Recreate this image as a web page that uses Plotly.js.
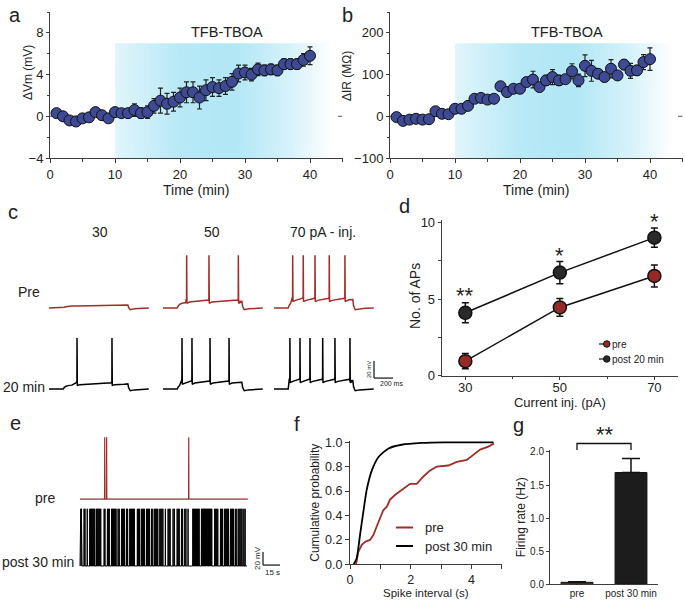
<!DOCTYPE html>
<html><head><meta charset="utf-8">
<script src="https://cdn.plot.ly/plotly-3.0.1.min.js"></script>
<style>html,body{margin:0;padding:0;background:#fff}#chart{width:685px;height:601px}</style>
</head><body><div id="chart"></div>
<script>
// ===================== DATA =====================
// panels a, b : time course
const timeMin = [1,2,3,4,5,6,7,8,9,10,11,12,13,14,15,16,17,18,19,20,21,22,23,24,25,26,27,28,29,30,31,32,33,34,35,36,37,38,39,40];
const dVm    = [0.3,0.0,-0.4,-0.5,-0.2,-0.1,0.4,0.1,-0.2,0.4,0.3,0.3,0.6,0.3,0.4,1.0,1.5,1.2,1.4,1.8,2.3,2.3,1.8,2.5,2.8,2.7,2.9,3.3,4.1,4.2,4.0,4.5,4.4,4.5,4.4,5.0,5.0,5.0,5.4,5.8];
const dVmErr = [0.2,0.2,0.2,0.2,0.2,0.2,0.2,0.2,0.2,0.2,0.2,0.3,0.6,0.5,0.6,0.7,1.2,1.0,0.9,0.9,1.0,1.0,1.1,1.0,0.9,0.8,0.8,0.8,0.8,0.7,0.6,0.6,0.5,0.5,0.5,0.5,0.5,0.5,0.6,0.85];
const dIR    = [-2,-11,-8,-6,-8,-7,12,6,5,18,18,25,42,44,40,42,72,58,66,66,82,88,70,86,94,86,89,108,86,121,109,102,94,114,98,124,109,110,130,137];
const dIRErr = [4,4,4,4,4,4,5,5,5,5,5,6,6,6,6,6,8,6,7,7,10,20,10,12,18,12,10,18,15,26,25,10,8,22,10,12,18,12,18,27];
// panel c : spike times (ms from trace start) during current steps
const stepCurrents = ['30', '50', '70 pA - inj.'];
const spikesPre  = [[], [249, 484, 793], [197, 308, 432, 582, 747]];
const spikesPost = [[295, 663], [200, 305, 495, 695], [168, 274, 379, 513, 642, 800]];
// panel d : number of APs
const currentInj = [30, 50, 70];
const apsPre     = [0.95, 4.45, 6.5];
const apsPreErr  = [0.5, 0.58, 0.72];
const apsPost    = [4.1, 6.72, 9.0];
const apsPostErr = [0.65, 0.72, 0.63];
const apsSig     = ['**', '*', '*'];
// panel e : spike times (s) of spontaneous firing
const spontPre  = [21.8, 23.5, 95.9];
const spontPost = [0.2,0.7,1.2,1.7,3.6,4.4,6.4,8.6,9.3,10.0,10.8,11.5,12.3,13.0,14.5,15.2,16.0,16.8,17.5,18.3,21.3,22.0,24.2,25.0,25.8,27.8,28.6,29.4,30.2,31.0,31.8,33.6,34.6,36.6,37.5,38.4,39.3,41.0,42.0,43.9,44.7,45.5,46.3,47.2,48.0,50.6,51.6,52.5,54.1,55.0,55.9,56.8,58.6,59.5,60.4,61.3,63.0,64.2,65.9,66.8,67.7,68.6,70.4,71.3,72.2,73.1,75.3,77.7,78.6,79.5,82.1,83.3,85.7,86.6,87.5,89.5,90.5,92.4,93.4,95.3,99.5,100.3,101.1,101.9,102.7,103.5,104.3,105.1,107.1,107.8,108.5,109.2,109.9,110.6,111.3,112.0,112.7,113.4,114.1,114.8,115.5,116.2,118.8,119.7,120.6,121.5,123.9,124.9,125.8,127.6,128.5,129.4,130.3,131.0,132.7,133.6,134.5,135.4,137.0,138.3,140.0,141.0,142.0,142.9,144.5,145.6];
// panel f : cumulative probability of spike intervals
const isiPre  = [0.2,0.27,0.39,0.5,0.66,0.77,0.88,0.99,1.1,1.21,1.32,1.49,1.7,1.98,2.2,2.42,2.64,2.86,3.24,3.52,3.85,4.07,4.29,4.56,4.75];
const cumPre  = [0.0,0.10,0.16,0.185,0.2,0.24,0.31,0.38,0.445,0.47,0.53,0.57,0.61,0.66,0.66,0.72,0.77,0.80,0.81,0.84,0.855,0.895,0.94,0.965,0.99];
const isiPost = [0.12,0.22,0.33,0.44,0.55,0.72,0.94,1.27,1.7,2.37,3.1,4.73];
const cumPost = [0.0,0.05,0.24,0.43,0.61,0.77,0.88,0.95,0.98,0.995,1.0,1.0];
// panel g : firing rate
const groups    = ['pre', 'post 30 min'];
const rate      = [0.03, 1.69];
const rateErr   = [0.01, 0.21];

// ===================== LAYOUT HELPERS =====================
const W = 685, H = 601;
const PX = x => x / W, PY = y => 1 - y / H;
const domX = (a, b) => [a / W, b / W];
const domY = (top, bot) => [1 - bot / H, 1 - top / H];
const FONT = 'Arial, Liberation Sans, sans-serif';
const AX = '#3c3c3c';
const TXT = '#222';
const RED = 'rgb(160,45,40)';
function axis(o) {
  return Object.assign({
    showline: true, linecolor: AX, linewidth: 1, ticks: 'outside', ticklen: 4, tickwidth: 1,
    tickcolor: AX, showgrid: false, zeroline: false, fixedrange: true,
    tickfont: {family: FONT, size: 13, color: TXT}
  }, o);
}
const hidden = o => Object.assign({visible: false, showgrid: false, zeroline: false, fixedrange: true}, o);
const tfont = s => ({family: FONT, size: s, color: TXT, weight: 'normal'});

// ===================== TRACE BUILDERS =====================
const STEP_ON = 150, STEP_OFF = 830, TRACE_LEN = 1050;
function stepTrace(spikes, t0, y0, lv) {
  const xs = [], ys = [];
  const p = (t, v) => { xs.push(t0 + t); ys.push(y0 + v); };
  const first = spikes.length ? spikes[0] - 8 : Infinity;
  p(0, 0); p(STEP_ON, 0);
  [[10, 0.35], [25, 0.6], [50, 0.8], [90, 0.92], [150, 1]].forEach(o => { if (STEP_ON + o[0] < first) p(STEP_ON + o[0], lv.base * o[1]); });
  spikes.forEach(s => {
    p(s - 7, lv.thr - 1.5); p(s - 1, lv.thr); p(s, lv.peak); p(s + 3, lv.ahp); p(s + 12, lv.ahp + 0.6); p(s + 30, lv.base);
  });
  p(STEP_OFF - 40, lv.base + 0.6); p(STEP_OFF, lv.base + 1);
  p(STEP_OFF + 8, lv.base * 0.3); p(STEP_OFF + 25, -2); p(STEP_OFF + 70, -1); p(STEP_OFF + 130, -0.3); p(TRACE_LEN, 0);
  return {xs, ys};
}
function spontTrace(spikes, y0, peak, tEnd) {
  const xs = [0], ys = [y0];
  spikes.forEach(t => { xs.push(t - 0.15, t, t + 0.15); ys.push(y0, y0 + peak, y0); });
  xs.push(tEnd); ys.push(y0);
  return {xs, ys};
}

// panel c geometry (ms / mV); 1 px = 10.526 ms horizontally, 0.85 px per mV vertically
const colOffset = [0, 1200, 2368];
const rowPre = 95.3, rowPost = 0;

const traces = [];
// ---- a ----
traces.push({x: timeMin, y: dVm, type: 'scatter', mode: 'markers', xaxis: 'x', yaxis: 'y', hoverinfo: 'skip',
  marker: {size: 11, color: '#3e4a93', line: {color: '#111', width: 1}},
  error_y: {type: 'data', array: dVmErr, color: '#222', thickness: 1.2, width: 2.5}});
// ---- b ----
traces.push({x: timeMin, y: dIR, type: 'scatter', mode: 'markers', xaxis: 'x2', yaxis: 'y2', hoverinfo: 'skip',
  marker: {size: 11, color: '#3e4a93', line: {color: '#111', width: 1}},
  error_y: {type: 'data', array: dIRErr, color: '#222', thickness: 1.2, width: 2.5}});
// ---- c ----
const lvPre  = [{base: 2.5, thr: 3, ahp: 2.5, peak: 3}, {base: 7, thr: 11, ahp: 5.5, peak: 62}, {base: 9, thr: 13, ahp: 7.5, peak: 62}];
const lvPost = [{base: 5, thr: 9, ahp: 4, peak: 60}, {base: 7, thr: 11, ahp: 5.5, peak: 60}, {base: 9, thr: 13, ahp: 7.5, peak: 60}];
for (let i = 0; i < 3; i++) {
  const a = stepTrace(spikesPre[i], colOffset[i], rowPre, lvPre[i]);
  traces.push({x: a.xs, y: a.ys, type: 'scatter', mode: 'lines', xaxis: 'x3', yaxis: 'y3', hoverinfo: 'skip',
    line: {color: RED, width: 1.5}});
  const b = stepTrace(spikesPost[i], colOffset[i], rowPost, lvPost[i]);
  traces.push({x: b.xs, y: b.ys, type: 'scatter', mode: 'lines', xaxis: 'x3', yaxis: 'y3', hoverinfo: 'skip',
    line: {color: '#000', width: 1.5}});
}
// ---- d ----
traces.push({x: currentInj, y: apsPre, type: 'scatter', mode: 'lines+markers', xaxis: 'x4', yaxis: 'y4', name: 'pre', hoverinfo: 'skip',
  line: {color: '#111', width: 1.5}, marker: {size: 13, color: 'rgb(150,40,38)', line: {color: '#111', width: 1.5}},
  error_y: {type: 'data', array: apsPreErr, color: '#111', thickness: 1.5, width: 3.5}});
traces.push({x: currentInj, y: apsPost, type: 'scatter', mode: 'lines+markers', xaxis: 'x4', yaxis: 'y4', name: 'post 20 min', hoverinfo: 'skip',
  line: {color: '#111', width: 1.5}, marker: {size: 13, color: '#2a2a2a', line: {color: '#111', width: 1.5}},
  error_y: {type: 'data', array: apsPostErr, color: '#111', thickness: 1.5, width: 3.5}});
// ---- e ----
const ePre = spontTrace(spontPre, 103, 95, 148);
traces.push({x: ePre.xs, y: ePre.ys, type: 'scatter', mode: 'lines', xaxis: 'x5', yaxis: 'y5', hoverinfo: 'skip', line: {color: RED, width: 1.2}});
const ePost = spontTrace(spontPost, 0, 88, 147.3);
traces.push({x: ePost.xs, y: ePost.ys, type: 'scatter', mode: 'lines', xaxis: 'x5', yaxis: 'y5', hoverinfo: 'skip', line: {color: '#000', width: 1}});
// ---- f ----
traces.push({x: isiPre, y: cumPre, type: 'scatter', mode: 'lines', xaxis: 'x6', yaxis: 'y6', name: 'pre', hoverinfo: 'skip', line: {color: RED, width: 1.8}});
traces.push({x: isiPost, y: cumPost, type: 'scatter', mode: 'lines', xaxis: 'x6', yaxis: 'y6', name: 'post 30 min', hoverinfo: 'skip', line: {color: '#000', width: 1.8, shape: 'spline', smoothing: 0.6}});
// ---- g ----
traces.push({x: groups, y: rate, type: 'bar', xaxis: 'x7', yaxis: 'y7', width: 0.59, hoverinfo: 'skip',
  marker: {color: ['rgb(120,32,30)', '#1c1c1c'], line: {color: '#111', width: 1}},
  error_y: {type: 'data', symmetric: false, array: rateErr, arrayminus: [0, 0], color: '#111', thickness: 1.5, width: 9}});

// ===================== GRADIENT (drug application) =====================
function gradientURL() {
  const c = document.createElement('canvas'); c.width = 400; c.height = 4;
  const g = c.getContext('2d'); const gr = g.createLinearGradient(0, 0, 400, 0);
  gr.addColorStop(0, 'rgb(225,245,252)'); gr.addColorStop(0.3, 'rgb(184,233,247)');
  gr.addColorStop(0.55, 'rgb(178,231,246)'); gr.addColorStop(0.8, 'rgb(214,242,251)');
  gr.addColorStop(1, 'rgb(255,255,255)');
  g.fillStyle = gr; g.fillRect(0, 0, 400, 4); return c.toDataURL();
}
const grad = gradientURL();

// ===================== ANNOTATIONS =====================
const ann = [];
const txt = (text, x, y, size, o) => ann.push(Object.assign({text, x: PX(x), y: PY(y), xref: 'paper', yref: 'paper',
  showarrow: false, xanchor: 'center', yanchor: 'middle', font: tfont(size)}, o || {}));
// panel letters
[['a', 15, 15], ['b', 347, 15], ['c', 13, 212], ['d', 404, 206], ['e', 15, 423], ['f', 297, 424], ['g', 518, 425]]
  .forEach(l => txt(l[0], l[1], l[2], 20));
// y-axis titles placed close to their tick labels, as in the reference
txt('ΔVm (mV)', 28, 73, 12, {textangle: -90});
txt('ΔIR (MΩ)', 347, 76, 12, {textangle: -90});
txt('No. of APs', 415, 296, 14, {textangle: -90});
// a, b labels
ann.push({text: 'TFB-TBOA', x: 27.2, y: 8.1, xref: 'x', yref: 'y', showarrow: false, font: tfont(14.5)});
ann.push({text: 'TFB-TBOA', x: 27.2, y: 202, xref: 'x2', yref: 'y2', showarrow: false, font: tfont(14.5)});
// c labels
txt(stepCurrents[0], 100, 232, 14); txt(stepCurrents[1], 212, 232, 14); txt(stepCurrents[2], 323, 232, 14);
txt('Pre', 29, 292, 14); txt('20 min', 24, 387, 14);
txt('20 mV', 369, 370, 6, {textangle: -90}); txt('200 ms', 392, 383, 7);
// d significance
currentInj.forEach((c, i) => {
  const yv = [5.2, 7.86, 10.04][i];
  ann.push({text: apsSig[i], x: c, y: yv, xref: 'x4', yref: 'y4', showarrow: false, font: tfont(22)});
});
// d legend text
txt('pre', 610, 344, 10, {xanchor: 'left'}); txt('post 20 min', 610, 359, 10, {xanchor: 'left'});
// e labels
txt('pre', 45, 498, 14); txt('post 30 min', 38, 562, 14);
txt('20 mV', 257, 558, 8, {textangle: -90}); txt('15 s', 272, 572, 8);
// f legend
txt('pre', 423, 527, 13, {xanchor: 'left'}); txt('post 30 min', 423, 546, 13, {xanchor: 'left'});
// g significance
txt('**', 605, 434, 22);

// ===================== SHAPES =====================
const shapes = [];
shapes.push({type: 'line', xref: 'x', yref: 'y', x0: 0, x1: 45, y0: 0, y1: 0, layer: 'below', line: {color: '#555', width: 1, dash: 'dash'}});
shapes.push({type: 'line', xref: 'x2', yref: 'y2', x0: 0, x1: 45, y0: 0, y1: 0, layer: 'below', line: {color: '#555', width: 1, dash: 'dash'}});
// c scale bar (20 mV, 200 ms)
const sbx = 3421, sby = 12.9;
shapes.push({type: 'line', xref: 'x3', yref: 'y3', x0: sbx, x1: sbx, y0: sby, y1: sby + 20, line: {color: '#111', width: 1.2}});
shapes.push({type: 'line', xref: 'x3', yref: 'y3', x0: sbx, x1: sbx + 200, y0: sby, y1: sby, line: {color: '#111', width: 1.2}});
// e scale bar (20 mV, 15 s)
const ebx = 161.4, eby = 1.5;
shapes.push({type: 'line', xref: 'x5', yref: 'y5', x0: ebx, x1: ebx, y0: eby, y1: eby + 20, line: {color: '#111', width: 1.2}});
shapes.push({type: 'line', xref: 'x5', yref: 'y5', x0: ebx, x1: ebx + 15, y0: eby, y1: eby, line: {color: '#111', width: 1.2}});
// d legend symbols
[[344, 'rgb(150,40,38)'], [359, '#2a2a2a']].forEach(r => {
  shapes.push({type: 'line', xref: 'paper', yref: 'paper', x0: PX(599), x1: PX(609), y0: PY(r[0]), y1: PY(r[0]), line: {color: '#111', width: 1.2}});
  shapes.push({type: 'circle', xref: 'paper', yref: 'paper', x0: PX(603.5), x1: PX(610), y0: PY(r[0] + 3.25), y1: PY(r[0] - 3.25), fillcolor: r[1], line: {color: '#111', width: 1}});
});
// f legend lines
shapes.push({type: 'line', xref: 'paper', yref: 'paper', x0: PX(396), x1: PX(413), y0: PY(527.5), y1: PY(527.5), line: {color: RED, width: 2}});
shapes.push({type: 'line', xref: 'paper', yref: 'paper', x0: PX(396), x1: PX(413), y0: PY(546), y1: PY(546), line: {color: '#000', width: 2}});
// g bracket
shapes.push({type: 'path', xref: 'paper', yref: 'paper',
  path: `M ${PX(577)} ${PY(450)} L ${PX(577)} ${PY(443.5)} L ${PX(631)} ${PY(443.5)} L ${PX(631)} ${PY(450)}`,
  line: {color: '#111', width: 1.3}});

// ===================== LAYOUT =====================
const minorAx = o => Object.assign({ticklen: 2.5, tickcolor: AX, ticks: 'outside'}, o);
const layout = {
  width: W, height: H, margin: {l: 0, r: 0, t: 0, b: 0}, paper_bgcolor: '#fff', plot_bgcolor: 'rgba(0,0,0,0)',
  showlegend: false, font: {family: FONT, color: TXT},
  xaxis: axis({domain: domX(50, 342.5), range: [0, 45], tick0: 0, dtick: 10, anchor: 'y',
    minor: minorAx({dtick: 5}),
    title: {text: 'Time (min)', font: tfont(14), standoff: 2}}),
  yaxis: axis({domain: domY(12, 158), range: [-4, 10], tick0: 0, dtick: 4, anchor: 'x', ticklen: 3,
    minor: minorAx({dtick: 2})}),
  xaxis2: axis({domain: domX(390, 682.5), range: [0, 45], tick0: 0, dtick: 10, anchor: 'y2',
    minor: minorAx({dtick: 5}),
    title: {text: 'Time (min)', font: tfont(14), standoff: 2}}),
  yaxis2: axis({domain: domY(12, 158), range: [-100, 250], tick0: 0, dtick: 100, anchor: 'x2', ticklen: 3,
    minor: minorAx({dtick: 50})}),
  xaxis3: hidden({domain: domX(40, 400), range: [-94.7, 3694.7], anchor: 'y3'}),
  yaxis3: hidden({domain: domY(240, 400), range: [-12.9, 175.3], anchor: 'x3'}),
  xaxis4: axis({domain: domX(441.7, 678), range: [25, 75], tickvals: [30, 50, 70], anchor: 'y4', ticklen: 3,
    ticklabelstandoff: -3,
    minor: minorAx({tickvals: [40, 60]}),
    title: {text: 'Current inj. (pA)', font: tfont(13), standoff: 0}}),
  yaxis4: axis({domain: domY(220, 375.7), range: [0, 10.15], tickvals: [0, 5, 10], anchor: 'x4', ticklen: 3,
    minor: minorAx({tickvals: [2.5, 7.5]})}),
  xaxis5: hidden({domain: domX(78, 290), range: [-1.76, 185.2], anchor: 'y5'}),
  yaxis5: hidden({domain: domY(430, 572), range: [-9.2, 209.2], anchor: 'x5'}),
  xaxis6: axis({domain: domX(350, 501.7), range: [0, 5], tickvals: [0, 2, 4], anchor: 'y6', ticklen: 4,
    tickfont: tfont(12.5),
    minor: minorAx({tickvals: [1, 3, 5], ticklen: 4}),
    title: {text: 'Spike interval (s)', font: tfont(11.5), standoff: 1}}),
  yaxis6: axis({domain: domY(441.1, 564.3), range: [0, 1.01], tickvals: [0, 0.2, 0.4, 0.6, 0.8, 1.0], tickformat: '.1f', anchor: 'x6', ticklen: 4,
    tickfont: tfont(12.5),
    title: {text: 'Cumulative probability', font: tfont(12), standoff: 2}}),
  xaxis7: axis({domain: domX(550, 658), type: 'category', range: [-0.5, 1.5], ticks: '', anchor: 'y7',
    tickfont: tfont(10)}),
  yaxis7: axis({domain: domY(450, 584.3), range: [0, 2.03], tickvals: [0, 0.5, 1.0, 1.5, 2.0], tickformat: '.1f', anchor: 'x7',
    tickfont: tfont(10), ticklen: 3,
    title: {text: 'Firing rate (Hz)', font: tfont(12), standoff: 1}}),
  images: [
    {source: grad, xref: 'x', yref: 'y', x: 10, y: 7, sizex: 33.5, sizey: 11, sizing: 'stretch', xanchor: 'left', yanchor: 'top', layer: 'below'},
    {source: grad, xref: 'x2', yref: 'y2', x: 10, y: 175, sizex: 33.5, sizey: 275, sizing: 'stretch', xanchor: 'left', yanchor: 'top', layer: 'below'}
  ],
  annotations: ann,
  shapes: shapes
};
Plotly.newPlot('chart', traces, layout, {staticPlot: true, displayModeBar: false});
</script>
</body></html>
